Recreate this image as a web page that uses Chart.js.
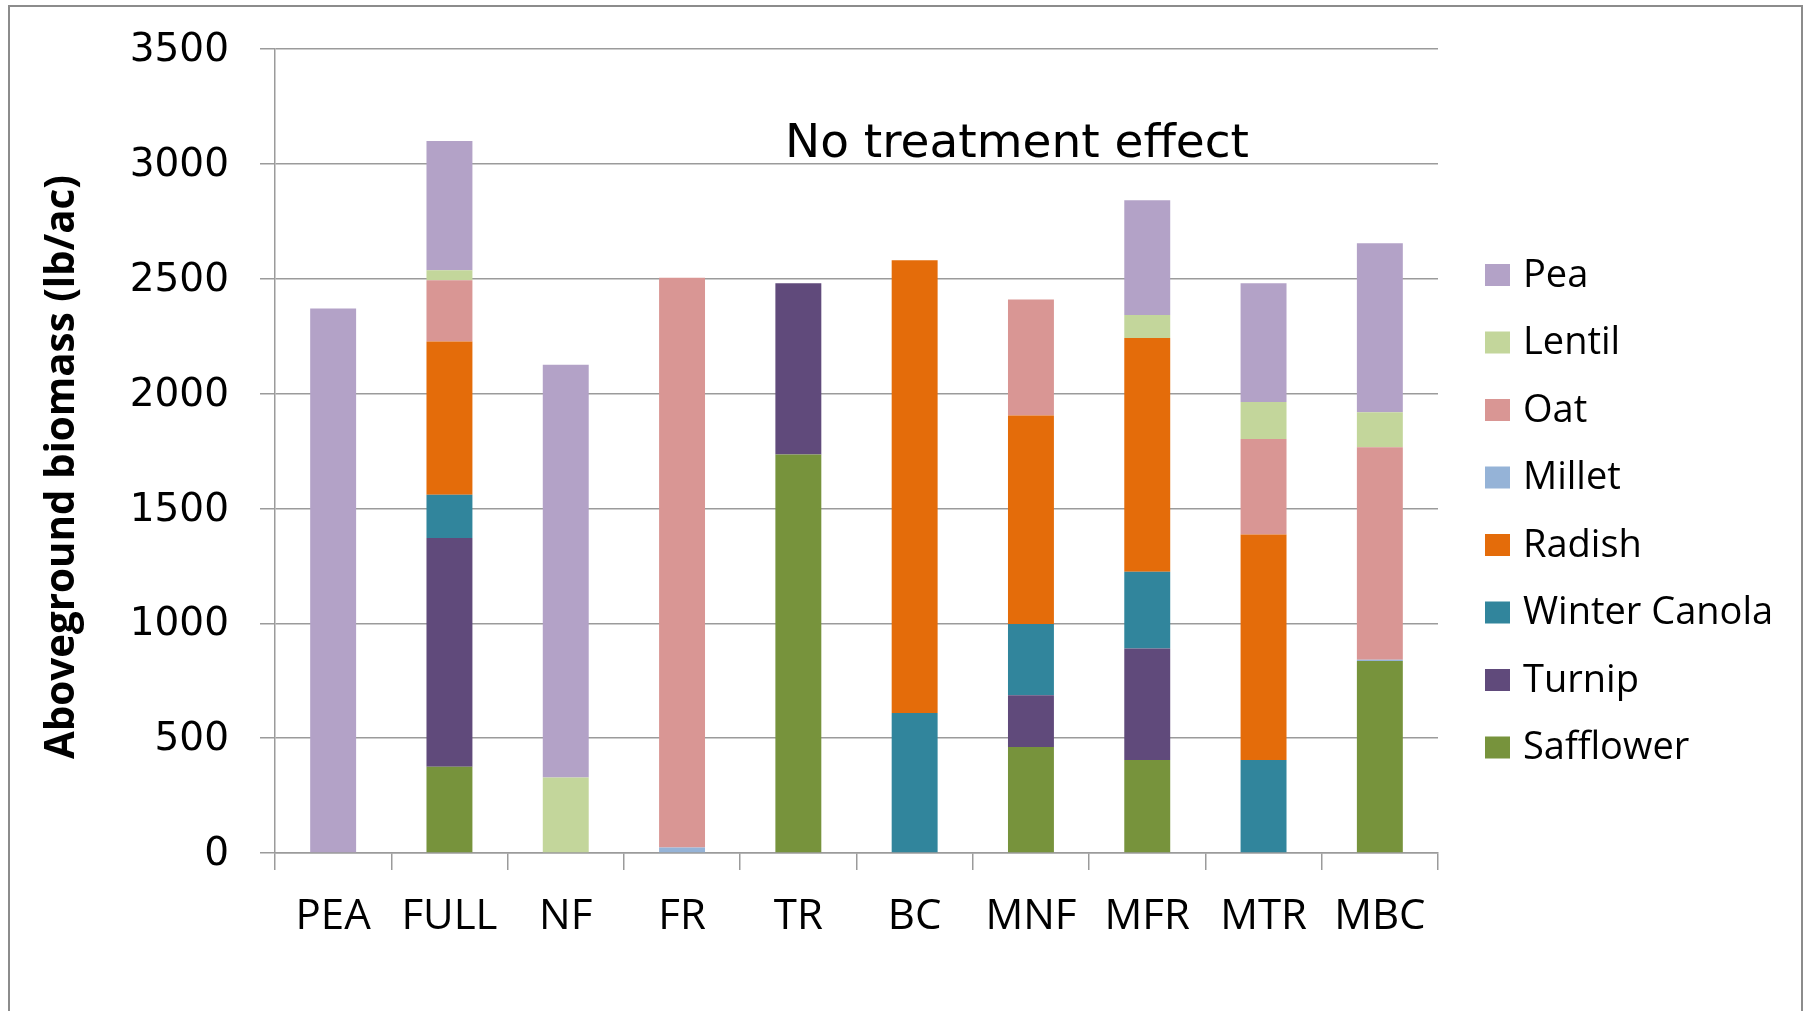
<!DOCTYPE html>
<html>
<head>
<meta charset="utf-8">
<script src="https://cdn.jsdelivr.net/npm/chart.js@4/dist/chart.umd.min.js"></script>
<style>
  html, body { margin: 0; padding: 0; background: #fff; overflow: hidden; }
  #wrap { position: relative; width: 1804px; height: 1011px; }
</style>
</head>
<body>
<div id="wrap"><canvas id="c" width="1804" height="1011"></canvas></div>
<script>
// Cover-crop treatments
const treatments = ['PEA', 'FULL', 'NF', 'FR', 'TR', 'BC', 'MNF', 'MFR', 'MTR', 'MBC'];

// Aboveground biomass by species (lb/ac), stacked bottom to top
const safflower    = [0,    375,  0,    0,    1735, 0,    461, 405,  0,   836];
const turnip       = [0,    996,  0,    0,    745,  0,    226, 485,  0,   0];
const winterCanola = [0,    189,  0,    0,    0,    609,  310, 334,  405, 0];
const radish       = [0,    667,  0,    0,    0,    1971, 907, 1018, 981, 0];
const millet       = [0,    0,    0,    24,   0,    0,    0,   0,    0,   5];
const oat          = [0,    266,  0,    2480, 0,    0,    505, 0,    416, 925];
const lentil       = [0,    44,   329,  0,    0,    0,    0,   100,  161, 153];
const pea          = [2370, 563,  1796, 0,    0,    0,    0,   500,  517, 735];

const yTickValues = [0, 500, 1000, 1500, 2000, 2500, 3000, 3500];

const speciesNames  = ['Safflower', 'Turnip', 'Winter Canola', 'Radish', 'Millet', 'Oat', 'Lentil', 'Pea'];
const speciesValues = [safflower, turnip, winterCanola, radish, millet, oat, lentil, pea];
const speciesColors = ['#77933C', '#604A7B', '#31859C', '#E46C0A', '#95B3D7', '#D99694', '#C3D69B', '#B3A2C7'];

const yTitle = 'Aboveground biomass (lb/ac)';
const note = 'No treatment effect';

const datasets = speciesNames.map((name, i) => ({
  label: name,
  data: speciesValues[i],
  backgroundColor: speciesColors[i],
  borderWidth: 0,
  categoryPercentage: 1.0,
  barPercentage: 0.395
}));

// Frame, rotated axis title, note and legend drawn on the canvas
const decorations = {
  id: 'decorations',
  afterDraw(chart) {
    const ctx = chart.ctx;
    ctx.save();

    // outer frame
    ctx.strokeStyle = '#8c8c8c';
    ctx.lineWidth = 2;
    ctx.strokeRect(9, 6, 1793, 1030);

    // y-axis title, fitted to its length
    ctx.fillStyle = '#000';
    let size = 40;
    ctx.font = 'bold ' + size + 'px "Open Sans"';
    const w = ctx.measureText(yTitle).width;
    size = size * 584 / w;
    ctx.font = 'bold ' + size.toFixed(1) + 'px "Open Sans"';
    ctx.translate(63, 467);
    ctx.rotate(-Math.PI / 2);
    ctx.textAlign = 'center';
    ctx.textBaseline = 'middle';
    ctx.fillText(yTitle, 0, 0);
    ctx.setTransform(1, 0, 0, 1, 0, 0);

    // note
    ctx.font = '47px "DejaVu Sans"';
    ctx.textAlign = 'center';
    ctx.textBaseline = 'alphabetic';
    ctx.fillText(note, 1017, 157);

    // legend, top item = last stacked series
    ctx.font = '38px "Open Sans"';
    ctx.textAlign = 'left';
    ctx.textBaseline = 'middle';
    const n = chart.data.datasets.length;
    for (let k = 0; k < n; k++) {
      const ds = chart.data.datasets[n - 1 - k];
      const cy = 275 + k * 67.5;
      ctx.fillStyle = ds.backgroundColor;
      ctx.fillRect(1485, cy - 11, 25, 22);
      ctx.fillStyle = '#000';
      ctx.fillText(ds.label, 1523, cy + 1);
    }
    ctx.restore();
  }
};

new Chart(document.getElementById('c'), {
  type: 'bar',
  data: { labels: treatments, datasets: datasets },
  options: {
    responsive: false,
    animation: false,
    devicePixelRatio: 1,
    layout: { padding: { left: 0, right: 366, top: 49, bottom: 0 } },
    plugins: {
      legend: { display: false },
      tooltip: { enabled: false }
    },
    scales: {
      x: {
        stacked: true,
        grid: {
          offset: true,
          drawOnChartArea: false,
          drawTicks: true,
          tickLength: 17,
          color: '#9b9b9b',
          lineWidth: 1.5
        },
        border: { display: true, color: '#9b9b9b', width: 1.5 },
        ticks: {
          color: '#000',
          padding: 22,
          maxRotation: 0,
          autoSkip: false,
          font: { family: '"Open Sans"', size: 42 }
        },
        afterFit(scale) {
          scale.height = 158;
          scale.paddingLeft = 0;
          scale.paddingRight = 0;
        }
      },
      y: {
        stacked: true,
        min: 0,
        max: 3500,
        afterBuildTicks(scale) { scale.ticks = yTickValues.map(v => ({ value: v })); },
        grid: {
          color: '#9b9b9b',
          lineWidth: 1.5,
          drawTicks: true,
          tickLength: 15
        },
        border: { display: true, color: '#9b9b9b', width: 1.5 },
        ticks: {
          color: '#000',
          padding: 31,
          labelOffset: 2,
          callback: v => String(v),
          font: { family: '"DejaVu Sans"', size: 39 }
        },
        afterFit(scale) {
          scale.width = 275;
          scale.paddingTop = 0;
          scale.paddingBottom = 0;
        }
      }
    }
  },
  plugins: [decorations]
});
</script>
</body>
</html>
